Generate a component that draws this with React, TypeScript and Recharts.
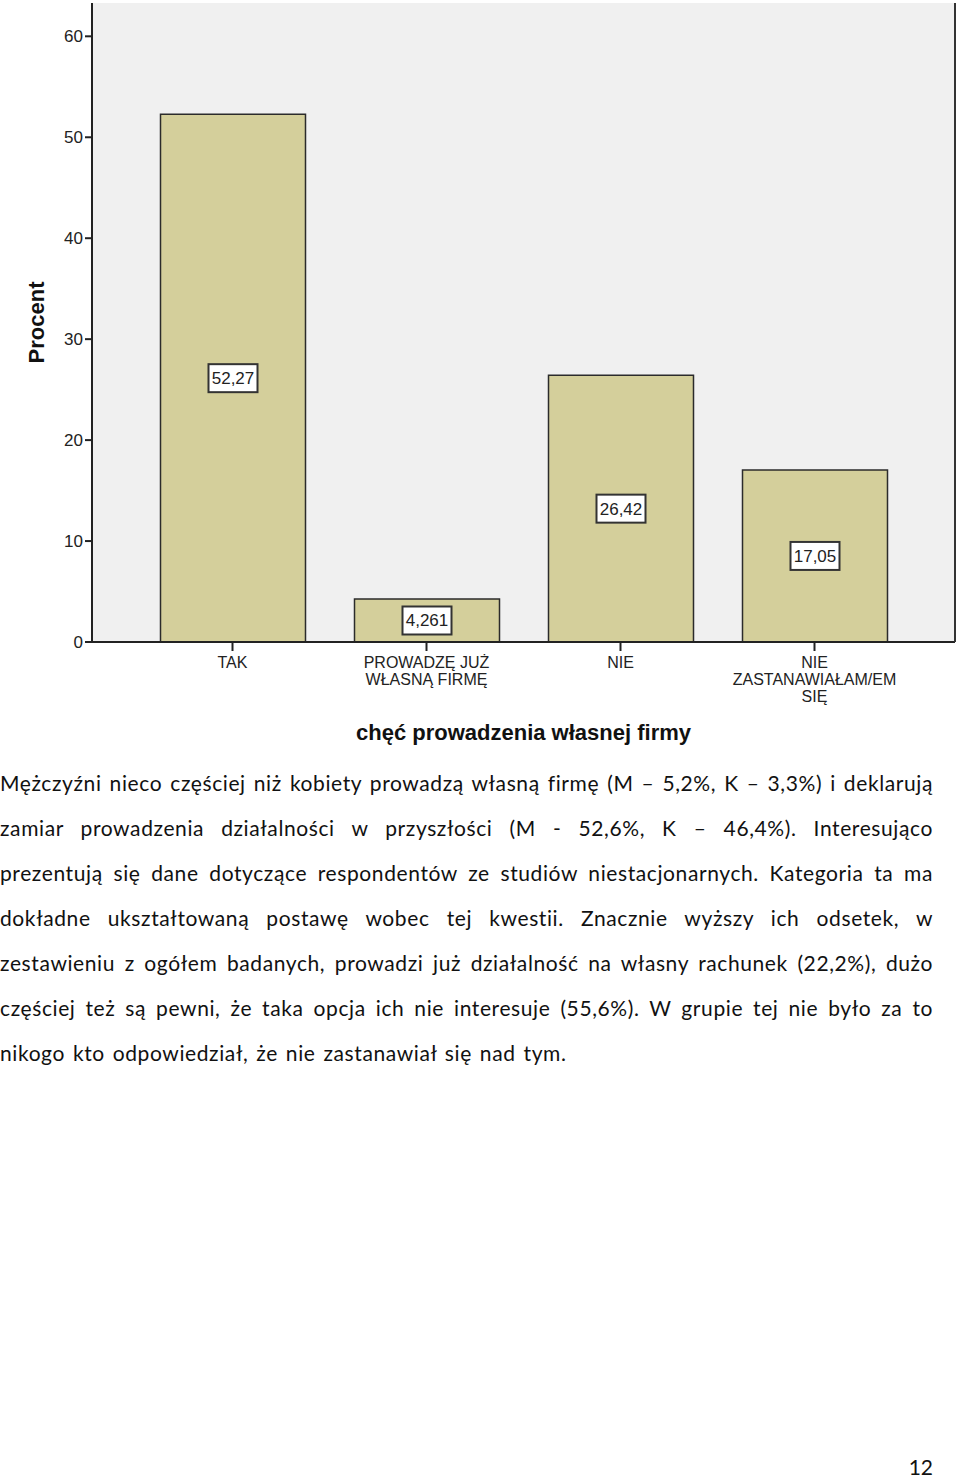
import React from "react"
import { Bar, BarChart, CartesianGrid, LabelList, XAxis, YAxis } from "recharts"

// values
const categories = ["TAK", "PROWADZĘ JUŻ\nWŁASNĄ FIRMĘ", "NIE", "NIE\nZASTANAWIAŁAM/EM\nSIĘ"]
const percents = [52.27, 4.261, 26.42, 17.05]
const yTicks = [0, 10, 20, 30, 40, 50, 60]

const paragraphLines = [
  "Mężczyźni nieco częściej niż kobiety prowadzą własną firmę (M – 5,2%, K – 3,3%) i deklarują",
  "zamiar prowadzenia działalności w przyszłości (M - 52,6%, K – 46,4%). Interesująco",
  "prezentują się dane dotyczące respondentów ze studiów niestacjonarnych. Kategoria ta ma",
  "dokładne ukształtowaną postawę wobec tej kwestii. Znacznie wyższy ich odsetek, w",
  "zestawieniu z ogółem badanych, prowadzi już działalność na własny rachunek (22,2%), dużo",
  "częściej też są pewni, że taka opcja ich nie interesuje (55,6%). W grupie tej nie było za to",
  "nikogo kto odpowiedział, że nie zastanawiał się nad tym.",
]

const data = categories.map((name, i) => ({ name, value: percents[i] }))

const AXIS_FONT = "'Liberation Sans', Arial, sans-serif"
const TEXT_FONT = "Lato, 'Noto Sans', sans-serif"

const CategoryTick = ({ x, y, payload }: any) => {
  const lines = String(payload.value).split("\n")
  return (
    <text x={x} y={y} textAnchor="middle" fill="#222" fontSize={16} fontFamily={AXIS_FONT}>
      {lines.map((line, i) => (
        <tspan key={i} x={x} dy={i === 0 ? 15 : 17}>
          {line}
        </tspan>
      ))}
    </text>
  )
}

const ValueBox = (props: any) => {
  const { x, y, width, height, value } = props
  const cx = x + width / 2
  const cy = y + height / 2
  return (
    <g>
      <rect x={cx - 24.5} y={cy - 14} width={49} height={28} fill="#fff" stroke="#333" strokeWidth={2} />
      <text x={cx} y={cy + 6} textAnchor="middle" fontSize={17} fill="#222" fontFamily={AXIS_FONT}>
        {String(value).replace(".", ",")}
      </text>
    </g>
  )
}

export default function App() {
  return (
    <div style={{ position: "absolute", left: 0, top: 0, width: 960, height: 1478, background: "#fff" }}>
      <BarChart width={960} height={750} data={data} margin={{ top: 3, right: 4, bottom: 0, left: 0 }}>
        <CartesianGrid horizontal={false} vertical={false} fill="#f0f0f0" />
        <XAxis
          dataKey="name"
          height={108}
          padding={{ left: 43.5, right: 43.5 }}
          tick={<CategoryTick />}
          tickSize={9}
          tickMargin={2}
          interval={0}
          axisLine={{ stroke: "#222", strokeWidth: 2 }}
          tickLine={{ stroke: "#222", strokeWidth: 2 }}
          label={{
            content: ({ viewBox }: any) => (
              <text
                x={viewBox.x + viewBox.width / 2}
                y={740}
                textAnchor="middle"
                fontSize={22}
                fontWeight="bold"
                fill="#111"
                fontFamily={AXIS_FONT}
              >
                chęć prowadzenia własnej firmy
              </text>
            ),
          }}
        />
        <XAxis xAxisId="top" dataKey="name" orientation="top" height={0} tick={false} tickLine={false} axisLine={{ stroke: "#777", strokeWidth: 2 }} />
        <YAxis
          width={92}
          domain={[0, 63.3]}
          ticks={yTicks}
          tickSize={7}
          tickMargin={2}
          axisLine={{ stroke: "#222", strokeWidth: 2 }}
          tickLine={{ stroke: "#222", strokeWidth: 2 }}
          tick={{ fontSize: 17, fill: "#222", fontFamily: AXIS_FONT }}
          label={{
            content: ({ viewBox }: any) => {
              const cx = 36
              const cy = viewBox.y + viewBox.height / 2
              return (
                <text
                  x={cx}
                  y={cy}
                  transform={`rotate(-90 ${cx} ${cy})`}
                  textAnchor="middle"
                  dominantBaseline="central"
                  fontSize={22}
                  fontWeight="bold"
                  fill="#111"
                  fontFamily={AXIS_FONT}
                >
                  Procent
                </text>
              )
            },
          }}
        />
        <YAxis yAxisId="right" orientation="right" width={1} tick={false} tickLine={false} axisLine={{ stroke: "#333", strokeWidth: 2 }} />
        <Bar dataKey="value" barSize={145} fill="#d4cf9b" stroke="#2b2b2b" strokeWidth={1.5} isAnimationActive={false}>
          <LabelList dataKey="value" content={<ValueBox />} />
        </Bar>
      </BarChart>

      <div
        style={{
          position: "absolute",
          left: 0,
          top: 760,
          width: 933,
          fontFamily: TEXT_FONT,
          fontSize: 21,
          letterSpacing: 0.6,
          wordSpacing: 2,
          lineHeight: "45px",
          color: "#111",
        }}
      >
        {paragraphLines.map((line, i) => (
          <div
            key={i}
            style={{
              textAlign: "justify",
              textAlignLast: i === paragraphLines.length - 1 ? "left" : "justify",
              whiteSpace: "nowrap",
            }}
          >
            {line}
          </div>
        ))}
      </div>

      <div
        style={{
          position: "absolute",
          right: 27,
          top: 1454,
          fontFamily: TEXT_FONT,
          fontSize: 21,
          color: "#111",
        }}
      >
        12
      </div>
    </div>
  )
}
